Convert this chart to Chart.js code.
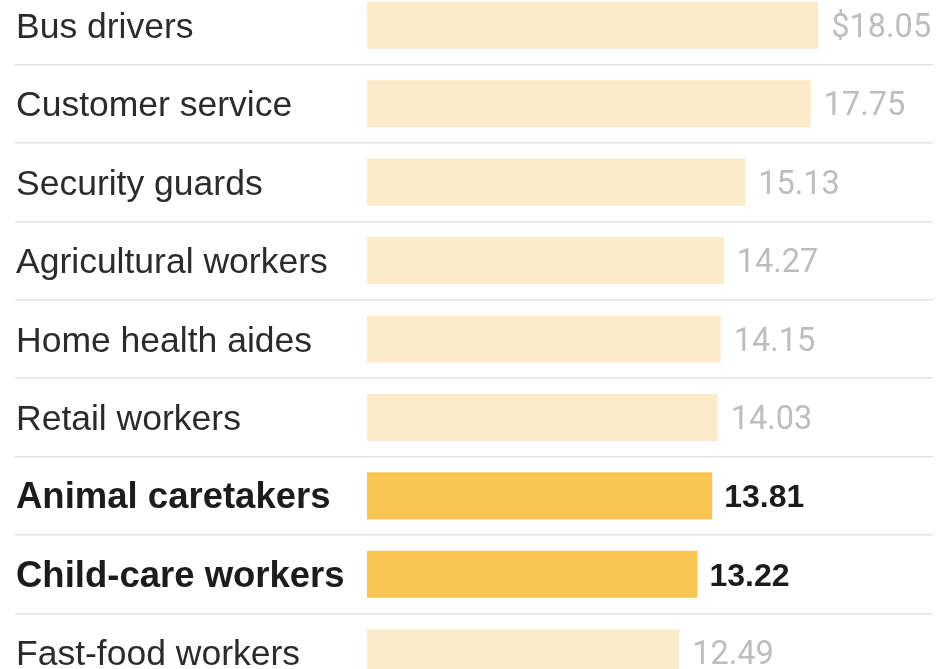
<!DOCTYPE html>
<html>
<head>
<meta charset="utf-8">
<script src="https://cdn.jsdelivr.net/npm/chart.js@4"></script>
<style>
    html, body { margin: 0; padding: 0; background: #fff; overflow: hidden; }
    #wrap { position: absolute; left: 0; top: -14px; width: 936px; height: 706px; }
</style>
</head>
<body>
<div id="wrap"><canvas id="myChart"></canvas></div>
<script>
const categories = ["Bus drivers", "Customer service", "Security guards", "Agricultural workers",
    "Home health aides", "Retail workers", "Animal caretakers", "Child-care workers", "Fast-food workers"];
const wages = [18.05, 17.75, 15.13, 14.27, 14.15, 14.03, 13.81, 13.22, 12.49];
const highlighted = [false, false, false, false, false, false, true, true, false];

const LIGHT = '#fcebcb';
const GOLD = '#f8c553';
const SANS = '"Liberation Sans", Arial, sans-serif';
const NUM = 'Roboto, "Liberation Sans", sans-serif';

// labels on the left and values at the end of each bar
const rowText = {
    id: 'rowText',
    afterDatasetsDraw(chart) {
        const c = chart.ctx;
        const meta = chart.getDatasetMeta(0);
        c.save();
        c.textBaseline = 'alphabetic';
        c.textAlign = 'left';
        meta.data.forEach((bar, i) => {
            const bold = highlighted[i];
            c.font = bold ? 'bold 36.5px ' + SANS : '35.5px ' + SANS;
            c.fillStyle = bold ? '#1c1c1c' : '#2b2b2b';
            c.fillText(categories[i], 16, bar.y + 12.5);
            var txt = (i == 0 ? '$' : '') + wages[i].toFixed(2);
            c.font = bold ? 'bold 32px ' + SANS : '32.5px ' + NUM;
            c.fillStyle = bold ? '#1c1c1c' : '#bdbdbd';
            c.fillText(txt, bar.x + (bold ? 12 : 13), bar.y + 11.5);
        });
        c.restore();
    }
};

const ctx = document.getElementById('myChart');
new Chart(ctx, {
    type: 'bar',
    data: {
        labels: categories,
        datasets: [{
            data: wages,
            backgroundColor: highlighted.map(h => h ? GOLD : LIGHT),
            borderWidth: 0,
            barPercentage: 0.6,
            categoryPercentage: 1
        }]
    },
    options: {
        indexAxis: 'y',
        responsive: true,
        maintainAspectRatio: false,
        animation: false,
        layout: { padding: { left: 15, right: 3, top: 0, bottom: 0 } },
        plugins: { legend: { display: false }, tooltip: { enabled: false } },
        scales: {
            x: { display: false, min: -14.08, max: 22.64 },
            y: {
                display: true,
                ticks: { display: false },
                border: { display: false },
                grid: { color: '#e3e3e3', lineWidth: 1.5, drawTicks: false, offset: true }
            }
        }
    },
    plugins: [rowText]
});
</script>
</body>
</html>
